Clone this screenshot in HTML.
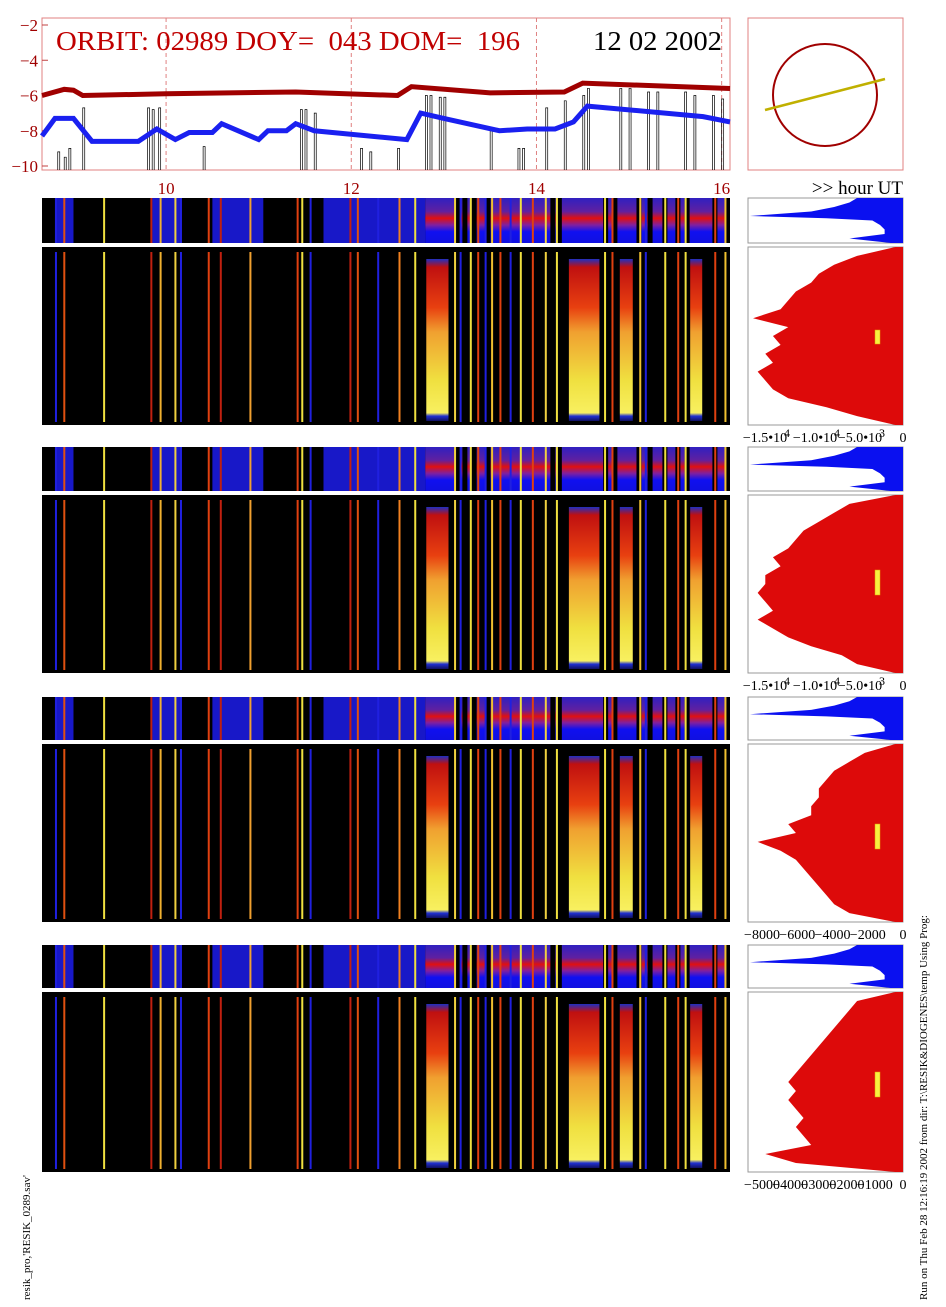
<!DOCTYPE html>
<html><head><meta charset="utf-8">
<style>
body{margin:0;background:#fff;}
svg{display:block;font-family:"Liberation Serif",serif;}
</style></head>
<body>
<svg id="fig" width="946" height="1307" viewBox="0 0 946 1307" xmlns="http://www.w3.org/2000/svg">
<defs>
<linearGradient id="blockGrad" x1="0" y1="0" x2="0" y2="1">
<stop offset="0" stop-color="#2030c0"/><stop offset="0.05" stop-color="#c01010"/><stop offset="0.3" stop-color="#e84010"/>
<stop offset="0.45" stop-color="#f0a030"/><stop offset="0.75" stop-color="#f0e040"/><stop offset="0.95" stop-color="#f8f060"/><stop offset="0.97" stop-color="#2030d0"/><stop offset="1" stop-color="#101060"/>
</linearGradient>
<linearGradient id="stripGrad" x1="0" y1="0" x2="0" y2="1">
<stop offset="0" stop-color="#3020c0"/><stop offset="0.3" stop-color="#6020a0"/><stop offset="0.45" stop-color="#e01010"/><stop offset="0.6" stop-color="#8020a0"/><stop offset="0.75" stop-color="#1010f0"/><stop offset="1" stop-color="#1010e0"/>
</linearGradient>
</defs>
<g id="topplot"></g>
<g id="panels"></g>
<text transform="translate(30,1300) rotate(-90)" font-size="11">resik_pro,'RESIK_0289.sav'</text>
<text transform="translate(927,1300) rotate(-90)" font-size="11">Run on Thu Feb 28 12:16:19 2002  from dir: T:\RESIK&amp;DIOGENES\temp Using Prog:</text>
</svg>
<script>
const hours=[10,12,14,16];
const yTicks=[-2,-4,-6,-8,-10];
const redH=[8.66,8.9,9.0,9.1,10,11.4,12.5,12.65,13.5,14.3,14.5,16.09];
const redV=[-6.0,-5.65,-5.7,-6.0,-5.9,-5.8,-6.0,-5.5,-5.85,-5.8,-5.3,-5.6];
const blueH=[8.66,8.8,9.0,9.2,9.7,9.9,10.1,10.25,10.5,10.6,11,11.1,11.3,11.4,11.6,12.6,12.75,13,13.6,13.9,14.2,14.4,14.55,15.8,16.09];
const blueV=[-8.3,-7.3,-7.3,-8.6,-8.6,-7.9,-8.5,-8.1,-8.1,-7.6,-8.5,-8.0,-8.0,-7.6,-8.0,-8.5,-7.0,-7.3,-8.0,-7.9,-7.9,-7.5,-6.6,-7.2,-7.5];
const spikeH=[8.83,8.9,8.95,9.1,9.8,9.85,9.92,10.4,11.45,11.5,11.6,12.1,12.2,12.5,12.8,12.85,12.95,13.0,13.5,13.8,13.85,14.1,14.3,14.5,14.55,14.9,15.0,15.2,15.3,15.6,15.7,15.9,16.0];
const spikeV=[-9.2,-9.5,-9.0,-6.7,-6.7,-6.8,-6.7,-8.9,-6.8,-6.8,-7.0,-9.0,-9.2,-9.0,-6.0,-6.0,-6.1,-6.1,-8.0,-9.0,-9.0,-6.7,-6.3,-6.0,-5.6,-5.6,-5.6,-5.8,-5.8,-5.8,-6.0,-6.0,-6.2];
const thinH=[8.80,8.89,9.32,9.83,9.93,10.09,10.15,10.45,10.58,10.90,11.41,11.46,11.55,11.98,12.06,12.28,12.51,12.68,13.11,13.17,13.28,13.36,13.44,13.51,13.60,13.71,13.82,13.95,14.09,14.21,14.73,14.81,15.11,15.17,15.38,15.52,15.60,15.92,16.03];
const thinC=["#2020e0","#e05010","#f0e040","#c02010","#f0b030","#f0d040","#2020e0","#e04010","#c02010","#f0a030","#e04010","#f0e040","#2020e0","#c02010","#e05010","#2020e0","#f08020","#f0e040","#f0d040","#2020e0","#f0e040","#e04010","#2020e0","#f0c030","#e04010","#2020e0","#f0e040","#e04010","#f0d040","#f0e040","#f0e040","#e04010","#f0c030","#2020e0","#f0e040","#e04010","#f0e040","#e04010","#f0c030"];
const blockStart=[12.81,14.35,14.9,15.66];
const blockEnd=[13.05,14.68,15.04,15.79];
const blueStart=[8.80,9.85,10.5,11.7,12.8];
const blueEnd=[9.0,10.15,11.05,12.8,16.05];
const gapH=[13.12,13.2,13.3,13.45,14.15,14.22,14.72,14.82,15.08,15.2,15.36,15.5,15.6,15.9];
const histRows=[0,0.05,0.1,0.15,0.2,0.25,0.3,0.35,0.4,0.45,0.5,0.55,0.6,0.65,0.7,0.75,0.8,0.85,0.9,0.95,1];
const histA=[0.05,0.3,0.45,0.55,0.6,0.7,0.75,0.8,0.98,0.75,0.85,0.8,0.9,0.85,0.95,0.9,0.85,0.75,0.5,0.3,0.05];
const histB=[0.05,0.35,0.45,0.55,0.65,0.7,0.75,0.85,0.8,0.9,0.9,0.95,0.9,0.85,0.95,0.85,0.75,0.6,0.4,0.3,0.05];
const histC=[0.05,0.25,0.35,0.45,0.5,0.55,0.55,0.6,0.6,0.75,0.7,0.95,0.8,0.7,0.65,0.6,0.55,0.5,0.45,0.35,0.05];
const histD=[0.05,0.3,0.35,0.4,0.45,0.5,0.55,0.6,0.65,0.7,0.75,0.7,0.75,0.7,0.65,0.7,0.65,0.6,0.9,0.7,0.05];
const stripRows=[0,0.1,0.2,0.3,0.4,0.45,0.5,0.6,0.7,0.8,0.9,1];
const stripW=[0.3,0.35,0.45,0.6,1.0,0.5,0.2,0.15,0.12,0.12,0.35,0.08];
const tickSets=[["−1.5•10","4"],["−1.0•10","4"],["−5.0•10","3"],["0",""]];
const tickSetC=["−8000","−6000","−4000","−2000","0"];
const tickSetD=["−5000","−4000","−3000","−2000","−1000","0"];

const NS="http://www.w3.org/2000/svg";
function el(p,t,a){const e=document.createElementNS(NS,t);for(const k in a)e.setAttribute(k,a[k]);p.appendChild(e);return e;}
const X0=42,X1=730,H0=8.66,H1=16.09;
const xs=h=>X0+(h-H0)/(H1-H0)*(X1-X0);
const TY0=25,TY1=166;
const ys=v=>TY0+(-2-v)/8*(TY1-TY0);

const topG=document.getElementById('topplot');
let fr=el(topG,'rect',{x:X0,y:18,width:X1-X0,height:152,fill:'none',stroke:'#e08080','stroke-width':1});


yTicks.forEach(v=>{
 let t=el(topG,'text',{x:38,y:ys(v)+6,'font-size':17,fill:'#a00000','text-anchor':'end'});t.textContent=v<0?'−'+(-v):v;
 
 
 el(topG,'line',{x1:X0,x2:X0+6,y1:ys(v),y2:ys(v),stroke:'#c04040'});
});
hours.forEach(h=>{
 let l=el(topG,'line',{x1:xs(h),x2:xs(h),y1:18,y2:170,stroke:'#e08080','stroke-dasharray':'4,3'});
 
 
 let t=el(topG,'text',{x:xs(h),y:194,'font-size':17,fill:'#a00000','text-anchor':'middle'});t.textContent=h;
 
 
});
let sp='';spikeH.forEach((h,i)=>{const x=xs(h);sp+=`M${x},${TY1+4}V${ys(spikeV[i])}H${x+2}V${TY1+4}`;});
let spk=el(topG,'path',{d:sp,fill:'none',stroke:'#000','stroke-width':0.7});


let rp=el(topG,'polyline',{points:redH.map((h,i)=>xs(h)+','+ys(redV[i])).join(' '),fill:'none',stroke:'#a00000','stroke-width':5});


let bp=el(topG,'polyline',{points:blueH.map((h,i)=>xs(h)+','+ys(blueV[i])).join(' '),fill:'none',stroke:'#1a20f0','stroke-width':5});


let tt=el(topG,'text',{x:56,y:50,'font-size':27,fill:'#c00000',style:'white-space:pre',textLength:464,lengthAdjust:'spacingAndGlyphs'});tt.textContent='ORBIT: 02989 DOY=  043 DOM=  196';


let dt=el(topG,'text',{x:593,y:50,'font-size':27,fill:'#000',textLength:129,lengthAdjust:'spacingAndGlyphs'});dt.textContent='12 02 2002';


let hu=el(topG,'text',{x:903,y:194,'font-size':19,fill:'#000','text-anchor':'end'});hu.textContent='>> hour UT';


let ob=el(topG,'rect',{x:748,y:18,width:155,height:152,fill:'none',stroke:'#e08080'});


let oc=el(topG,'ellipse',{cx:825,cy:95,rx:52,ry:51,fill:'none',stroke:'#a00000','stroke-width':2});


let ol=el(topG,'line',{x1:765,y1:110,x2:885,y2:79,stroke:'#c0b000','stroke-width':2.5});



const panels=[{s:198,m:247,e:425,h:histA},{s:447,m:495,e:673,h:histB},{s:697,m:744,e:922,h:histC},{s:945,m:992,e:1172,h:histD}];
const P=document.getElementById('panels');
panels.forEach((p,pi)=>{
 const g=el(P,'g',{});
 
 
 const sh=p.m-p.s-4;
 el(g,'rect',{x:X0,y:p.s,width:X1-X0,height:sh,fill:'#000'});
 blueStart.forEach((b,i)=>{let r=el(g,'rect',{x:xs(b),y:p.s,width:xs(blueEnd[i])-xs(b),height:sh,fill:i==4?'url(#stripGrad)':'#1818c8'});
  
  });
 gapH.forEach(h=>el(g,'rect',{x:xs(h),y:p.s,width:5,height:sh,fill:'#000'}));
 thinH.forEach((h,i)=>el(g,'rect',{x:xs(h),y:p.s,width:2,height:sh,fill:thinC[i]}));
 el(g,'rect',{x:X0,y:p.m,width:X1-X0,height:p.e-p.m,fill:'#000'});
 thinH.forEach((h,i)=>{let r=el(g,'rect',{x:xs(h),y:p.m+5,width:2,height:p.e-p.m-8,fill:thinC[i]});
  
  });
 blockStart.forEach((b,i)=>{let r=el(g,'rect',{x:xs(b),y:p.m+12,width:xs(blockEnd[i])-xs(b),height:p.e-p.m-16,fill:'url(#blockGrad)'});
  
  });
 const HX0=748,HX1=903;
 el(g,'rect',{x:HX0,y:p.s,width:HX1-HX0,height:sh,fill:'#fff',stroke:'#999'});
 let d=`M${HX1},${p.s}`;stripRows.forEach((r,i)=>{d+=`L${HX1-stripW[i]*(HX1-HX0-2)},${p.s+r*sh}`;});d+=`L${HX1},${p.s+sh}Z`;
 let sb=el(g,'path',{d:d,fill:'#0a10f0'});
 
 
 const hh=p.e-p.m;
 el(g,'rect',{x:HX0,y:p.m,width:HX1-HX0,height:hh,fill:'#fff',stroke:'#999'});
 let d2=`M${HX1},${p.m}`;histRows.forEach((r,i)=>{d2+=`L${HX1-p.h[i]*(HX1-HX0-2)},${p.m+r*hh}`;});d2+=`L${HX1},${p.e}Z`;
 let hr=el(g,'path',{d:d2,fill:'#dd0a0a'});
 
 
 let yb=el(g,'rect',{x:875,y:p.m+(pi==0?83:pi==1?75:80),width:5,height:pi==0?14:25,fill:'#f8f040',stroke:'#e0a000','stroke-width':0.5});
 
 
 const ty=p.e+17;
 if(pi<2){
  const pos=[765,815,860,903];
  tickSets.forEach((t,i)=>{let tx=el(g,'text',{x:pos[i],y:ty,'font-size':14,'text-anchor':'middle'});tx.textContent=t[0];
   
   
   if(t[1]){let s=el(g,'text',{x:pos[i]+19,y:ty-5,'font-size':12});s.textContent=t[1];}});
 } else {
  const arr=pi==2?tickSetC:tickSetD;
  arr.forEach((t,i)=>{let tx=el(g,'text',{x:762+i*(141/(arr.length-1)),y:ty,'font-size':14,'text-anchor':'middle'});tx.textContent=t;
   
   });
 }
});
</script>
</body></html>
